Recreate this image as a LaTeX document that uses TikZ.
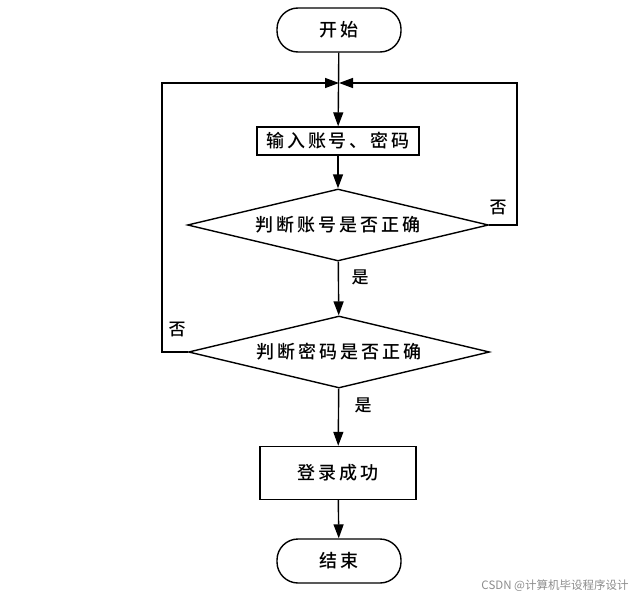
\documentclass[tikz,border=0pt]{standalone}
\usepackage{fontspec}
\newfontfamily\cjk{Noto Sans CJK SC}[UprightFont=* Medium, LetterSpace=16]
\newfontfamily\wmfont{Noto Sans CJK SC}
\usetikzlibrary{shapes.geometric,arrows.meta}
\begin{document}
\begin{tikzpicture}[x=1pt,y=-1pt,
  every node/.style={font=\cjk\fontsize{18}{18}\selectfont, inner sep=0pt},
  base/.style={draw, line width=1.4pt},
  term/.style={base, rectangle, rounded corners=21pt, minimum width=124pt, minimum height=44pt},
  proc/.style={base, rectangle},
  deci/.style={base, diamond, aspect=4.2, minimum width=301pt, minimum height=72pt},
  arr/.style={line width=1.4pt, -{Triangle[length=14pt,width=10pt]}},
  lbl/.style={font=\cjk\fontsize{17}{17}\selectfont},
  wm/.style={font=\wmfont\fontsize{11.5}{11.5}\selectfont, text=black!45}]
\useasboundingbox (0,0) rectangle (636,597);
\node[term] (start) at (339,30) {开始};
\coordinate (j) at (339,83);
\node[proc, minimum width=162pt, minimum height=28pt] (input) at (338,141) {输入账号、密码};
\node[deci] (d1) at (338,225) {判断账号是否正确};
\node[deci] (d2) at (339,352) {判断密码是否正确};
\node[proc, minimum width=156pt, minimum height=53pt] (login) at (338,473) {登录成功};
\node[term] (end) at (339,561) {结束};
\coordinate (rc) at (517,83);
\coordinate (lc) at (162,83);
\draw[arr] (start) -- (input);
\draw[arr] (input) -- (d1);
\draw[arr] (d1) -- (d2);
\draw[arr] (d2) -- (login);
\draw[arr] (login) -- (end);
\draw[arr] (d1.east) -| (rc) -- (j);
\draw[arr] (d2.west) -| (lc) -- (j);
\node[lbl] (no1) at (498,207) {否};
\node[lbl] (yes1) at (360,277) {是};
\node[lbl] (no2) at (177,329) {否};
\node[lbl] (yes2) at (363,405) {是};
\node[wm] (wmark) at (555,586) {CSDN @计算机毕设程序设计};
\end{tikzpicture}
\end{document}
